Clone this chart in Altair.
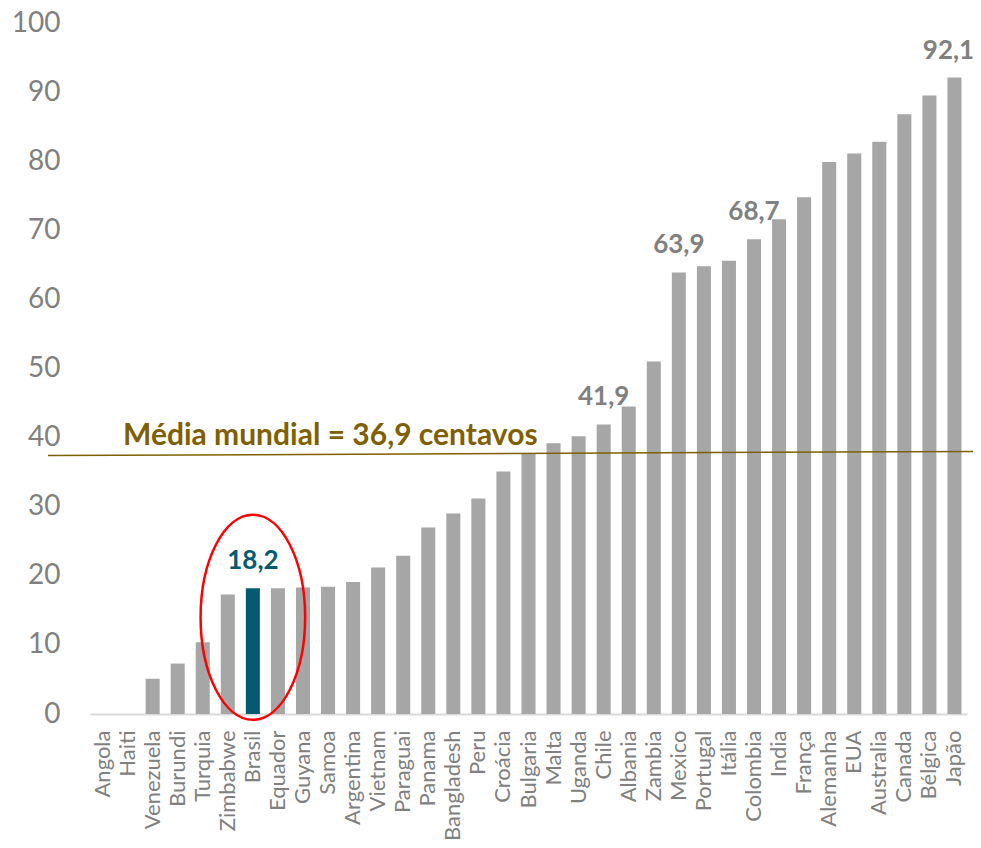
import altair as alt
import pandas as pd

countries = ["Angola", "Haiti", "Venezuela", "Burundi", "Turquia", "Zimbabwe", "Brasil",
             "Equador", "Guyana", "Samoa", "Argentina", "Vietnam", "Paraguai", "Panama",
             "Bangladesh", "Peru", "Croácia", "Bulgaria", "Malta", "Uganda", "Chile",
             "Albania", "Zambia", "Mexico", "Portugal", "Itália", "Colombia", "India",
             "França", "Alemanha", "EUA", "Australia", "Canada", "Bélgica", "Japão"]
values = [0, 0, 5.1, 7.3, 10.4, 17.3, 18.2, 18.2, 18.3, 18.4, 19.1, 21.2, 22.9, 27.0,
          29.0, 31.2, 35.1, 37.7, 39.2, 40.2, 41.9, 44.5, 51.0, 63.9, 64.8, 65.6, 68.7,
          71.6, 74.8, 79.9, 81.1, 82.8, 86.8, 89.5, 92.1]

labelled_countries = ["Brasil", "Chile", "Mexico", "Colombia"]
labelled_texts = ["18,2", "41,9", "63,9", "68,7"]
edge_country = "Japão"
edge_text = "92,1"

highlight = "Brasil"
highlight_ring_center = 14.0

mean_label = "Média mundial = 36,9 centavos"
mean_label_level = 39.0
mean_line_left = 37.4
mean_line_right = 38.0

y_ticks = [0, 10, 20, 30, 40, 50, 60, 70, 80, 90, 100]

GRAY = "#A6A6A6"
TEAL = "#045A70"
TEXT_GRAY = "#808080"
GOLD = "#7F6000"
FONT = "Lato"

df = pd.DataFrame({"pais": countries, "valor": values})
lab = pd.DataFrame({
    "pais": labelled_countries,
    "valor": [values[countries.index(c)] for c in labelled_countries],
    "texto": labelled_texts,
})
edge_lab = pd.DataFrame({"pais": [edge_country], "valor": [values[countries.index(edge_country)]],
                         "texto": [edge_text]})
mean_df = pd.DataFrame({"valor": [mean_line_left], "valor2": [mean_line_right]})
mean_txt = pd.DataFrame({"valor": [mean_label_level], "texto": [mean_label]})
ring_df = pd.DataFrame({"pais": [highlight], "valor": [highlight_ring_center]})

x_enc = alt.X(
    "pais:N", sort=countries,
    scale=alt.Scale(paddingInner=0.44, paddingOuter=0.22),
    axis=alt.Axis(title=None, labelAngle=-90, labelAlign="right", labelBaseline="middle",
                  ticks=False, labelPadding=16, domainColor="#D9D9D9", domainWidth=2,
                  labelFont=FONT, labelFontSize=22, labelColor=TEXT_GRAY),
)
y_enc = alt.Y(
    "valor:Q",
    scale=alt.Scale(domain=[0, 100], nice=False, zero=True),
    axis=alt.Axis(title=None, values=y_ticks, grid=False, domain=False, ticks=False,
                  labelPadding=30, labelFont=FONT, labelFontSize=28, labelColor=TEXT_GRAY),
)

bars = alt.Chart(df).mark_bar().encode(
    x=x_enc, y=y_enc,
    color=alt.when(alt.datum.pais == highlight).then(alt.value(TEAL)).otherwise(alt.value(GRAY)),
)

labels = alt.Chart(lab).mark_text(
    font=FONT, fontSize=26, fontWeight="bold", baseline="alphabetic", align="center", dy=-19
).encode(
    x=x_enc, y=y_enc, text="texto:N",
    color=alt.when(alt.datum.pais == highlight).then(alt.value(TEAL)).otherwise(alt.value(TEXT_GRAY)),
)

edge_label = alt.Chart(edge_lab).mark_text(
    font=FONT, fontSize=26, fontWeight="bold", baseline="alphabetic", align="center",
    dy=-19, dx=-6, color=TEXT_GRAY
).encode(x=x_enc, y=y_enc, text="texto:N")

mean_rule = alt.Chart(mean_df).mark_rule(color=GOLD, strokeWidth=1.5).encode(
    x=alt.value(-42), x2=alt.value(883), y=y_enc, y2="valor2:Q"
)

mean_text = alt.Chart(mean_txt).mark_text(
    font=FONT, fontSize=30, fontWeight="bold", color=GOLD, align="left", baseline="alphabetic"
).encode(x=alt.value(33), y=y_enc, text="texto:N")

ring = alt.Chart(ring_df).mark_point(
    shape="M -0.51 0 A 0.51 1 0 1 0 0.51 0 A 0.51 1 0 1 0 -0.51 0 Z",
    size=42025, filled=False, color="#FF0000", strokeWidth=2.5, opacity=1,
).encode(x=x_enc, y=y_enc)

chart = alt.layer(bars, labels, edge_label, mean_rule, mean_text, ring).properties(
    width=877, height=691,
    padding={"left": 82, "top": 15, "right": 6, "bottom": 132},
    autosize=alt.AutoSizeParams(type="none"),
).configure(font=FONT).configure_view(stroke=None)

chart.save("out.html", embed_options={"renderer": "svg", "actions": False})
